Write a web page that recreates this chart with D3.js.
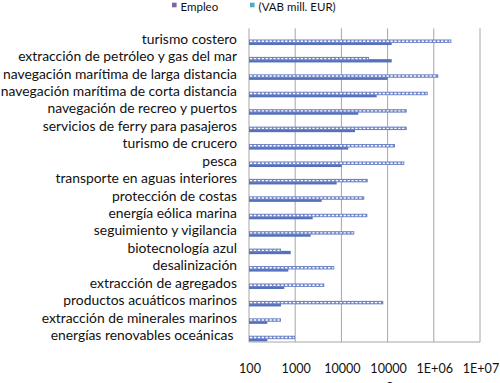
<!DOCTYPE html>
<html><head><meta charset="utf-8">
<script src="https://cdn.jsdelivr.net/npm/d3@7"></script>
<style>body{margin:0;background:#fff}svg{display:block}text{font-family:Lato,"Noto Sans",sans-serif;fill:#111}</style>
</head><body><svg id="c" width="500" height="383"></svg>
<script>
const categories = ["turismo costero","extracción de petróleo y gas del mar","navegación marítima de larga distancia","navegación marítima de corta distancia","navegación de recreo y puertos","servicios de ferry para pasajeros","turismo de crucero","pesca","transporte en aguas interiores","protección de costas","energía eólica marina","seguimiento y vigilancia","biotecnología azul","desalinización","extracción de agregados","productos acuáticos marinos","extracción de minerales marinos","energías renovables oceánicas "];
const empleo = [2400000,39500,1250000,738000,259000,259000,144500,230000,37100,31300,36400,19000,493,7020,4265,80700,493,990];
const vab = [122700,122700,100500,58100,23200,19700,14100,10150,7910,3750,2390,2165,800,709,581,493,249,249];
const tickValues = [100,1000,10000,100000,1000000,10000000];
const tickLabels = ["100","1000","10000","10000","1E+06","1E+07"];
const seriesNames = ["Empleo","(VAB mill. EUR)"];

const svg = d3.select("#c");
const x = d3.scaleLog().domain([100,1e7]).range([249,480]);
const y = d3.scaleBand().domain(categories).range([28.3,342]).padding(0);
const bw = y.bandwidth();

// gridlines
svg.append("g").selectAll("line").data(tickValues.slice(1)).join("line")
  .attr("x1",d=>x(d)).attr("x2",d=>x(d)).attr("y1",28.3).attr("y2",342)
  .attr("stroke","#a6a6a6").attr("stroke-width",1);
svg.append("line").attr("x1",x(100)).attr("x2",x(100)).attr("y1",28.3).attr("y2",342).attr("stroke","#a6a6a6");
svg.append("line").attr("x1",x(100)).attr("x2",x(1e7)).attr("y1",342).attr("y2",342).attr("stroke","#a6a6a6");

const idx = d3.range(categories.length);
svg.append("g").selectAll("rect").data(idx).join("rect")
  .attr("x",x(100)).attr("y",i=>y(categories[i])+bw*0.77).attr("height",bw*0.19)
  .attr("width",i=>x(vab[i])-x(100)).attr("fill","#5571b9");
svg.append("g").selectAll("rect").data(idx).join("rect")
  .attr("x",x(100)).attr("y",i=>y(categories[i])+bw*0.64).attr("height",bw*0.2)
  .attr("width",i=>x(empleo[i])-x(100)).attr("fill","#6f85c8");
svg.append("g").selectAll("line").data(idx).join("line")
  .attr("x1",x(100)+1).attr("x2",i=>x(empleo[i])-1)
  .attr("y1",i=>y(categories[i])+bw*0.74).attr("y2",i=>y(categories[i])+bw*0.74)
  .attr("stroke","#fff").attr("stroke-width",1.4).attr("stroke-dasharray","2.3,1.6");

// category labels, font size fitted so label 2 spans ~219px
const labs = svg.append("g").selectAll("text").data(categories).join("text")
  .attr("x",237).attr("y",d=>y(d)+bw/2+1.2).attr("text-anchor","end")
  .attr("dominant-baseline","central").attr("font-size",12)
  .style("white-space","pre").text(d=>d);
const w2 = labs.nodes()[1].getComputedTextLength();
labs.attr("font-size", 12*219/w2);

// x tick labels
const tl = svg.append("g").selectAll("text").data(tickValues).join("text")
  .attr("x",d=>x(d)+1).attr("y",368).attr("text-anchor","middle")
  .attr("dominant-baseline","central").attr("font-size",13).text((d,i)=>tickLabels[i]);
const wt = tl.nodes()[2].getComputedTextLength();
tl.attr("font-size", 13*36.5/wt);
svg.append("text").attr("x",390).attr("y",389).attr("text-anchor","middle").attr("font-size",14).text("a");

// legend
const lg = svg.append("g");
const lx = [172,250], lc = ["#8064a2","#4bacc6"];
seriesNames.forEach((n,i)=>{
  lg.append("rect").attr("x",lx[i]).attr("y",2.7).attr("width",4.6).attr("height",4.6).attr("fill",lc[i]);
  lg.append("text").attr("x",lx[i]+8.5).attr("y",6.5).attr("dominant-baseline","central").attr("font-size",11.5).text(n);
});
</script></body></html>
